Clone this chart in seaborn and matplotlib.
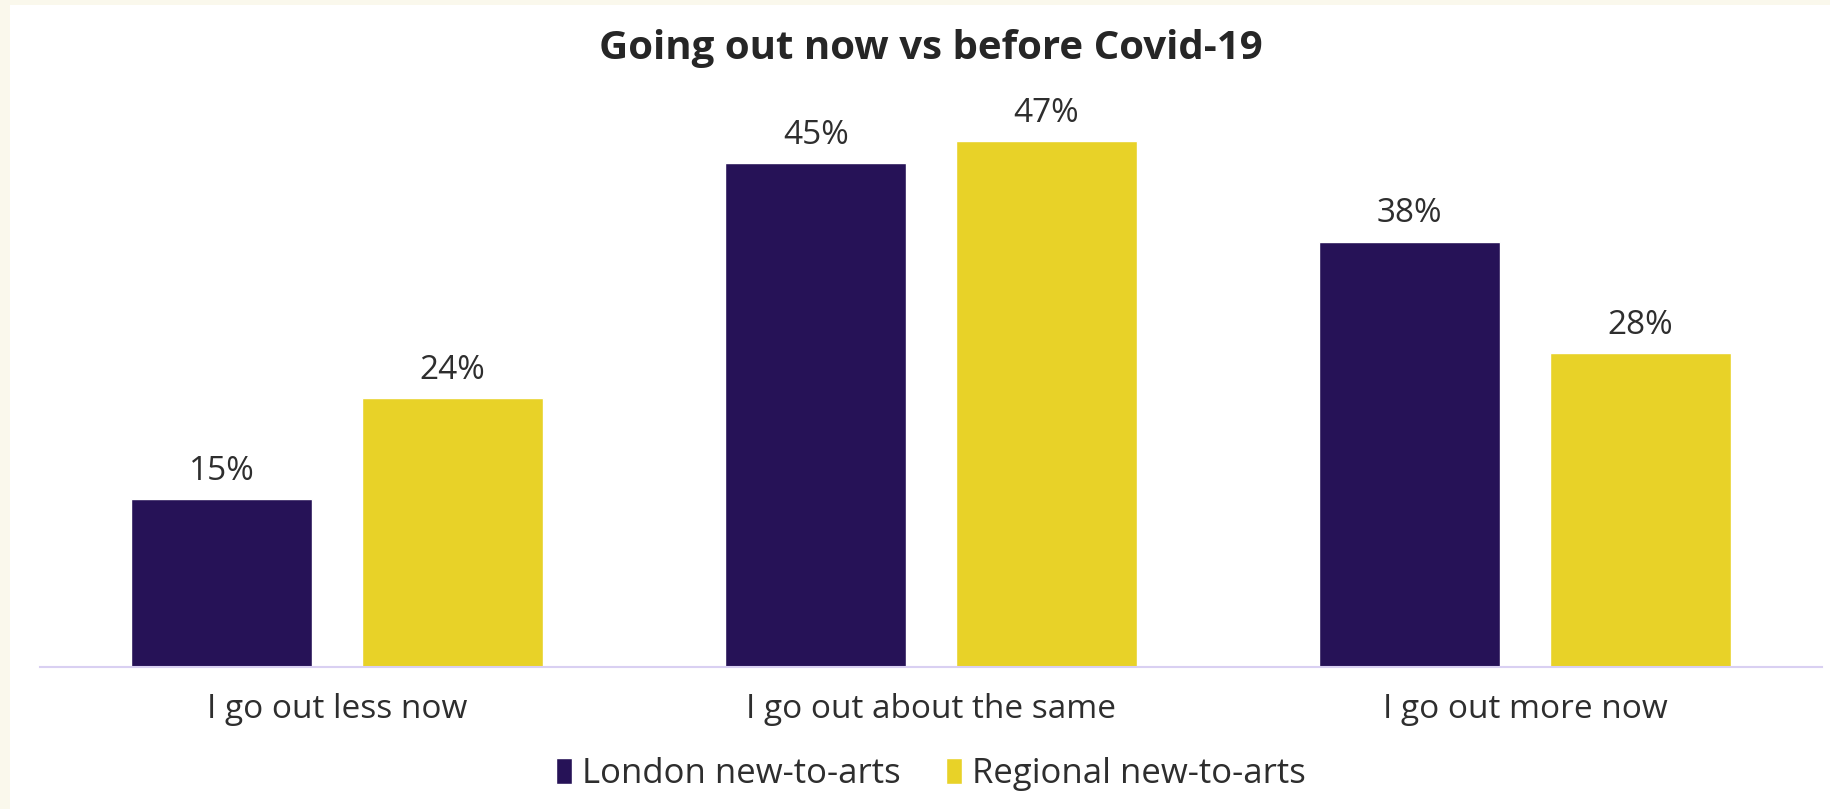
import matplotlib
matplotlib.use("Agg")
import matplotlib.pyplot as plt
import seaborn as sns
import pandas as pd
from matplotlib.patches import Rectangle

# ------------------------- Data -------------------------
categories = ["I go out less now", "I go out about the same", "I go out more now"]
groups = ["London new-to-arts", "Regional new-to-arts"]
london_values = [15, 45, 38]
regional_values = [24, 47, 28]

colors = ["#261257", "#e8d228"]
text_color = "#2e2e2e"

df = pd.DataFrame({
    "category": categories * 2,
    "group": [groups[0]] * 3 + [groups[1]] * 3,
    "value": london_values + regional_values,
})

# ------------------------- Figure -------------------------
sns.set_theme(style="white")
plt.rcParams["font.family"] = ["Open Sans", "DejaVu Sans"]

fig = plt.figure(figsize=(18.31, 8.09), dpi=100)
fig.patch.set_facecolor("#faf8ec")
fig.patches.append(Rectangle((10 / 1831, 0), 1, 1 - 5 / 809, transform=fig.transFigure,
                             facecolor="white", edgecolor="none", zorder=-5))

ax = fig.add_axes([40 / 1831, 142 / 809, 1782 / 1831, 0.692])
ax.set_facecolor("none")

sns.barplot(data=df, x="category", y="value", hue="group", order=categories,
            hue_order=groups, palette=colors, width=0.7765, gap=0.2125,
            saturation=1, ax=ax, legend=True)

ax.set_ylim(0, 50)
ax.set_xlim(-0.5, 2.5)
for container in ax.containers:
    ax.bar_label(container, fmt="%d%%", padding=8, fontsize=24, color=text_color)

ax.set_xlabel("")
ax.set_ylabel("")
ax.set_yticks([])
ax.tick_params(axis="x", length=0, pad=19, labelsize=24, labelcolor=text_color)
for side in ["top", "right", "left"]:
    ax.spines[side].set_visible(False)
ax.spines["bottom"].set_color("#d9d0f2")
ax.spines["bottom"].set_linewidth(1.5)

center_x = (40 + 1822) / 2 / 1831
handles, labels = ax.get_legend_handles_labels()
ax.get_legend().remove()
fig.legend(handles, labels, loc="center", bbox_to_anchor=(center_x, 1 - 774 / 809), ncol=2,
           frameon=False, fontsize=25, handlelength=0.45, handleheight=0.8,
           handletextpad=0.3, columnspacing=1.3, labelcolor=text_color)

fig.text(center_x, 1 - 49 / 809, "Going out now vs before Covid-19", ha="center", va="center",
         fontsize=29, fontweight="bold", color="#262626")

fig.savefig("out.png", dpi=100, facecolor=fig.get_facecolor())
